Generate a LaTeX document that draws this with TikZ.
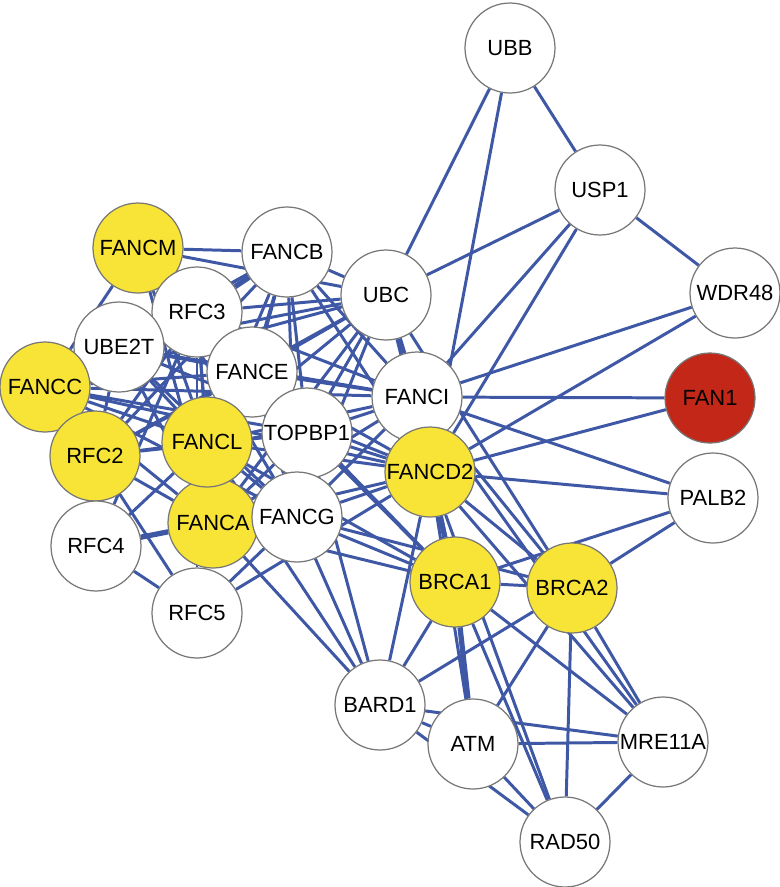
\documentclass[tikz,border=0pt]{standalone}
\usepackage{fontspec}
\setmainfont{Liberation Sans}
\usetikzlibrary{backgrounds}
\definecolor{linkblue}{HTML}{3F58A6}
\definecolor{hityellow}{HTML}{F8E436}
\definecolor{fanred}{HTML}{C22718}
\definecolor{ringgray}{HTML}{777777}

\tikzset{
  gene/.style={circle, draw=ringgray, line width=0.7pt, fill=white,
    minimum size=1.8cm, inner sep=0pt, font=\fontsize{12.5}{14}\selectfont},
  hit/.style={gene, fill=hityellow},
  query/.style={gene, fill=fanred},
  link/.style={linkblue, line width=1.7pt},
  biglink/.style={linkblue, line width=3pt}
}

\begin{document}
\begin{tikzpicture}[x=0.02cm, y=-0.02cm]
  \useasboundingbox (0,0) rectangle (780,887);

  % right-hand genes
  \node[gene] (UBB) at (510,48) {UBB};
  \node[gene] (USP1) at (600,190) {USP1};
  \node[gene] (WDR48) at (735,293) {WDR48};
  \node[query] (FAN1) at (710,398) {FAN1};
  \node[gene] (PALB2) at (713,498) {PALB2};

  % core cluster
  \node[gene] (FANCB) at (287,252) {FANCB};
  \node[gene] (UBC) at (386,295) {UBC};
  \node[hit] (FANCM) at (138,248) {FANCM};
  \node[gene] (RFC3) at (197,312) {RFC3};
  \node[gene] (UBE2T) at (119,347) {UBE2T};
  \node[hit] (FANCC) at (45,387) {FANCC};
  \node[hit] (RFC2) at (95,456) {RFC2};
  \node[gene] (RFC4) at (96,546) {RFC4};
  \node[gene] (RFC5) at (197,613) {RFC5};
  \node[gene] (FANCE) at (252,372) {FANCE};
  \node[hit] (FANCA) at (213,523) {FANCA};
  \node[hit] (FANCL) at (207,442) {FANCL};
  \node[gene] (TOPBP1) at (307,433) {TOPBP1};
  \node[gene] (FANCG) at (297,517) {FANCG};
  \node[gene] (FANCI) at (417,397) {FANCI};
  \node[hit] (FANCD2) at (430,472) {FANCD2};

  % repair genes
  \node[hit] (BRCA1) at (455,582) {BRCA1};
  \node[hit] (BRCA2) at (572,588) {BRCA2};
  \node[gene] (BARD1) at (380,705) {BARD1};
  \node[gene] (ATM) at (473,744) {ATM};
  \node[gene] (MRE11A) at (663,742) {MRE11A};
  \node[gene] (RAD50) at (565,842) {RAD50};

  \begin{scope}[on background layer]
    % right part
    \foreach \a/\b in {UBB/USP1, UBB/UBC, UBB/FANCD2, USP1/WDR48, USP1/UBC,
        USP1/FANCI, USP1/FANCD2, WDR48/FANCI, WDR48/FANCD2, FAN1/FANCI,
        FAN1/FANCD2, PALB2/FANCI, PALB2/FANCD2, PALB2/BRCA1, PALB2/BRCA2,
        BRCA1/BRCA2, FANCI/BRCA2, FANCD2/BRCA2, UBC/BRCA2, FANCI/MRE11A,
        FANCI/BRCA1, FANCI/FANCD2}
      \draw[link] (\a) -- (\b);

    % bottom part
    \foreach \a/\b in {BARD1/BRCA1, BARD1/BRCA2, BARD1/FANCD2, BARD1/MRE11A,
        BARD1/RAD50, BARD1/ATM, BARD1/TOPBP1, BARD1/FANCG, BARD1/FANCL,
        BARD1/FANCA, ATM/FANCD2, ATM/BRCA2, ATM/MRE11A, ATM/RAD50,
        MRE11A/BRCA1, MRE11A/BRCA2, MRE11A/FANCD2, MRE11A/RAD50,
        RAD50/BRCA1, RAD50/BRCA2, RAD50/FANCD2}
      \draw[link] (\a) -- (\b);

    % core cluster
    \foreach \a/\b in {FANCM/FANCB, FANCM/UBC, FANCM/FANCC, FANCM/RFC3,
        FANCM/FANCL, FANCM/FANCA, FANCM/FANCE, FANCM/FANCG, FANCM/TOPBP1,
        FANCB/FANCE, FANCB/FANCL, FANCB/FANCA, FANCB/FANCG, FANCB/TOPBP1,
        FANCB/FANCI, FANCB/FANCD2, FANCB/UBE2T, FANCB/FANCC, FANCB/RFC2,
        FANCB/UBC, UBC/FANCE, UBC/FANCL, UBC/FANCA, UBC/FANCG, UBC/TOPBP1,
        UBC/FANCD2, UBC/RFC3, UBC/UBE2T, UBC/FANCC, UBC/RFC2,
        RFC3/FANCL, RFC3/FANCA, RFC3/RFC2, RFC3/RFC4, RFC3/RFC5, RFC3/FANCE,
        RFC3/TOPBP1, RFC3/FANCI, UBE2T/FANCL, UBE2T/FANCA, UBE2T/FANCE,
        UBE2T/FANCG, UBE2T/FANCD2, UBE2T/FANCI, UBE2T/RFC2,
        FANCE/FANCL, FANCE/FANCA, FANCE/FANCG, FANCE/FANCC, FANCE/RFC2,
        FANCE/FANCI, FANCE/FANCD2, FANCE/TOPBP1, FANCE/BRCA1,
        FANCC/FANCL, FANCC/FANCA, FANCC/FANCG, FANCC/FANCI, FANCC/FANCD2,
        FANCC/TOPBP1, FANCL/FANCA, FANCL/FANCG, FANCL/TOPBP1, FANCL/FANCI,
        FANCL/FANCD2, FANCL/RFC2, FANCL/RFC4, FANCL/BRCA1,
        RFC2/RFC4, RFC2/RFC5, RFC2/FANCA, RFC2/TOPBP1, RFC4/RFC5,
        RFC5/FANCA, RFC5/FANCG, RFC5/FANCD2, FANCA/FANCG, FANCA/FANCI,
        FANCA/FANCD2, FANCA/TOPBP1, FANCA/BRCA1, FANCG/FANCI, FANCG/FANCD2,
        FANCG/BRCA1, FANCG/BRCA2, FANCG/TOPBP1, TOPBP1/FANCI,
        TOPBP1/FANCD2, TOPBP1/BRCA1}
      \draw[link] (\a) -- (\b);

    % heavier links
    \foreach \a/\b in {FANCD2/BRCA1, ATM/BRCA1, UBC/FANCI, RFC4/FANCA, FANCB/RFC3}
      \draw[biglink] (\a) -- (\b);
  \end{scope}
\end{tikzpicture}
\end{document}
